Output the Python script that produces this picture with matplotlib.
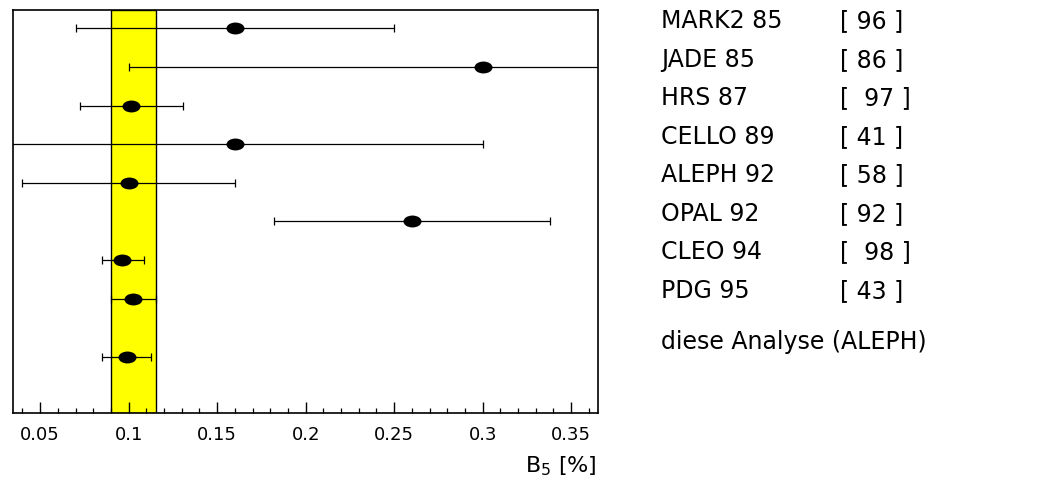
import matplotlib
matplotlib.use("Agg")
import matplotlib.pyplot as plt
from matplotlib.path import Path
from matplotlib.ticker import MultipleLocator
import numpy as np

# B5 measurements (in %) from earlier experiments, plus this analysis
experiments = ["MARK2 85", "JADE 85", "HRS 87", "CELLO 89",
               "ALEPH 92", "OPAL 92", "CLEO 94", "PDG 95"]
references = ["[ 96 ]", "[ 86 ]", "[  97 ]", "[ 41 ]",
              "[ 58 ]", "[ 92 ]", "[  98 ]", "[ 43 ]"]
values = [0.160, 0.300, 0.1015, 0.160, 0.100, 0.260, 0.0965, 0.1027]
err_low = [0.090, 0.200, 0.029, 0.140, 0.060, 0.078, 0.0116, 0.0128]
err_high = [0.090, 0.200, 0.029, 0.140, 0.060, 0.078, 0.0121, 0.0128]
row_pos = [10, 9, 8, 7, 6, 5, 4, 3]

this_label = "diese Analyse (ALEPH)"
this_value = 0.0988
this_err_low = 0.0139
this_err_high = 0.0137
this_pos = 1.5

# world average band (PDG 95)
band_center = 0.1027
band_halfwidth = 0.0128

W, H = 1045, 493
fig = plt.figure(figsize=(W / 100, H / 100), dpi=100)
plt.rcParams["mathtext.fontset"] = "dejavusans"

ax = fig.add_axes([12.7 / W, 1 - 413.3 / H, 585 / W, 403 / H])
ax.set_xlim(0.0345, 0.365)
ax.set_ylim(0.035, 10.465)

ax.axvspan(band_center - band_halfwidth, band_center + band_halfwidth,
           facecolor="#ffff00", edgecolor="black", linewidth=1.0, zorder=1)

# elliptical marker, wider than tall
circ = Path.unit_circle()
ellipse = Path(circ.vertices * np.array([1.0, 0.66]), circ.codes)

all_x = values + [this_value]
all_y = row_pos + [this_pos]
all_lo = err_low + [this_err_low]
all_hi = err_high + [this_err_high]

ax.errorbar(all_x, all_y, xerr=[all_lo, all_hi], fmt="none",
            ecolor="black", elinewidth=0.9, capsize=2.6, capthick=0.9,
            zorder=2)
ax.plot(all_x, all_y, linestyle="none", marker=ellipse, markersize=13,
        color="black", markeredgewidth=0, zorder=3)

ax.xaxis.set_minor_locator(MultipleLocator(0.01))
ax.set_xticks([0.05, 0.1, 0.15, 0.2, 0.25, 0.3, 0.35])
ax.set_xticklabels(["0.05", "0.1", "0.15", "0.2", "0.25", "0.3", "0.35"])
ax.tick_params(axis="x", which="major", direction="in", length=8, width=1,
               labelsize=13, pad=9, top=False)
ax.tick_params(axis="x", which="minor", direction="in", length=3.6,
               width=0.9, top=False)
ax.set_yticks([])
for sp in ax.spines.values():
    sp.set_linewidth(1.2)

# axis title
fig.text(597 / W, 1 - 466 / H, "B$_5$ [%]", ha="right", va="center",
         fontsize=16)

# legend column: experiment names with references
label_rows = [21.3, 59.7, 98.0, 136.6, 175.2, 213.8, 252.2, 290.6]
for name, ref, yc in zip(experiments, references, label_rows):
    fig.text(661 / W, 1 - yc / H, name, ha="left", va="center", fontsize=17)
    fig.text(840 / W, 1 - yc / H, ref, ha="left", va="center", fontsize=17)
fig.text(661 / W, 1 - 342.5 / H, this_label, ha="left", va="center",
         fontsize=17)

fig.savefig("out.png", dpi=100)
